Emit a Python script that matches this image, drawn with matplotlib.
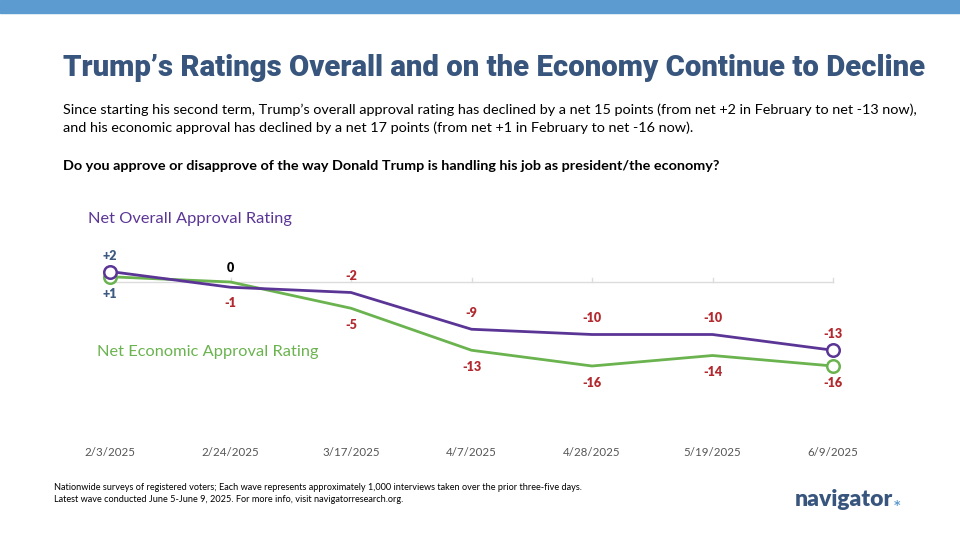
import matplotlib
matplotlib.use("Agg")
import matplotlib.pyplot as plt
from matplotlib.patches import Rectangle

dates = ["2/3/2025", "2/24/2025", "3/17/2025", "4/7/2025", "4/28/2025", "5/19/2025", "6/9/2025"]
overall = [2, -1, -2, -9, -10, -10, -13]
economic = [1, 0, -5, -13, -16, -14, -16]
overall_labels = ["+2", "-1", "-2", "-9", "-10", "-10", "-13"]
economic_labels = ["+1", "0", "-5", "-13", "-16", "-14", "-16"]
overall_above = [True, False, True, True, True, True, True]

W, H = 960, 540
fig = plt.figure(figsize=(9.6, 5.4), dpi=100)
fig.patch.set_facecolor("white")

def fx(px):
    return px / W

def fy(py):
    return 1 - py / H

# top bar
fig.patches.append(Rectangle((0, fy(13)), 1, 13 / H, transform=fig.transFigure,
                             color="#5b9bd0", zorder=0))

TITLE_C = "#38557d"
fig.text(fx(63), fy(68), "Trump\u2019s Ratings Overall and on the Economy Continue to Decline",
         fontsize=21.2, fontweight=900, family=["Roboto", "DejaVu Sans"],
         color=TITLE_C, va="center", ha="left")
fig.text(fx(63), fy(110),
         "Since starting his second term, Trump\u2019s overall approval rating has declined by a net 15 points (from net +2 in February to net -13 now),",
         fontsize=10.35, family="Lato", color="black", va="center")
fig.text(fx(63), fy(128),
         "and his economic approval has declined by a net 17 points (from net +1 in February to net -16 now).",
         fontsize=10.35, family="Lato", color="black", va="center")
fig.text(fx(63), fy(166),
         "Do you approve or disapprove of the way Donald Trump is handling his job as president/the economy?",
         fontsize=10.35, family="Lato", fontweight="bold", color="black", va="center")

# axes: x 110..833 px, zero at y=282, 5.25 px/unit
ax_top, ax_bot = 200, 420
ax = fig.add_axes([fx(110), fy(ax_bot), (833 - 110) / W, (ax_bot - ax_top) / H])
scale = 5.25
ax.set_xlim(0, len(dates) - 1)
ax.set_ylim(-(ax_bot - 282) / scale, (282 - ax_top) / scale)
ax.axis("off")

xs = list(range(len(dates)))
PURPLE = "#5b3596"
GREEN = "#6ab34f"
RED = "#b22a30"
BLUEGRAY = "#3d5a80"

ax.axhline(0, color="#dcdcdc", lw=1, zorder=1, clip_on=False)
for x in xs:
    ax.plot([x, x], [0, 4 / scale], color="#dcdcdc", lw=1, zorder=1, clip_on=False)

ax.plot(xs, economic, color=GREEN, lw=2, zorder=3, clip_on=False)
ax.plot(xs, overall, color=PURPLE, lw=2, zorder=4, clip_on=False)
for s, c in ((economic, GREEN), (overall, PURPLE)):
    ax.plot([xs[0], xs[-1]], [s[0], s[-1]], "o", ms=9, mfc="white", mec=c, mew=1.8,
            zorder=5, clip_on=False)

def lab_color(t):
    if t.startswith("+"):
        return BLUEGRAY
    if t == "0":
        return "black"
    return RED

for i, x in enumerate(xs):
    off = 16 if overall_above[i] else -16
    ax.annotate(overall_labels[i], (x, overall[i]), xytext=(0, off), textcoords="offset pixels",
                ha="center", va="center", fontsize=9, fontweight="heavy", family="Lato",
                color=lab_color(overall_labels[i]), annotation_clip=False)
    off = -17 if overall_above[i] else 14
    ax.annotate(economic_labels[i], (x, economic[i]), xytext=(0, off), textcoords="offset pixels",
                ha="center", va="center", fontsize=9, fontweight="heavy", family="Lato",
                color=lab_color(economic_labels[i]), annotation_clip=False)

for x, d in zip(xs, dates):
    ax.text(x, -(453 - 282) / scale, d, ha="center", va="center", fontsize=8.3,
            family="Lato", color="#555555", clip_on=False)

fig.text(fx(88), fy(219), "Net Overall Approval Rating", fontsize=11.8, family="Lato",
         color=PURPLE, va="center")
fig.text(fx(97), fy(352), "Net Economic Approval Rating", fontsize=11.8, family="Lato",
         color=GREEN, va="center")

fig.text(fx(54), fy(488),
         "Nationwide surveys of registered voters; Each wave represents approximately 1,000 interviews taken over the prior three-five days.",
         fontsize=6.6, family="Lato", color="black", va="center")
fig.text(fx(54), fy(499),
         "Latest wave conducted June 5-June 9, 2025. For more info, visit navigatorresearch.org.",
         fontsize=6.6, family="Lato", color="black", va="center")

fig.text(fx(795), fy(499), "navigator", fontsize=16.5, fontweight="heavy", family="Lato",
         color=TITLE_C, va="center", ha="left")
fig.text(fx(896.5), fy(505), "*", fontsize=9, fontweight="bold", family="DejaVu Sans",
         color="#5b9bd0", va="center", ha="center")

fig.savefig("out.png", dpi=100)
